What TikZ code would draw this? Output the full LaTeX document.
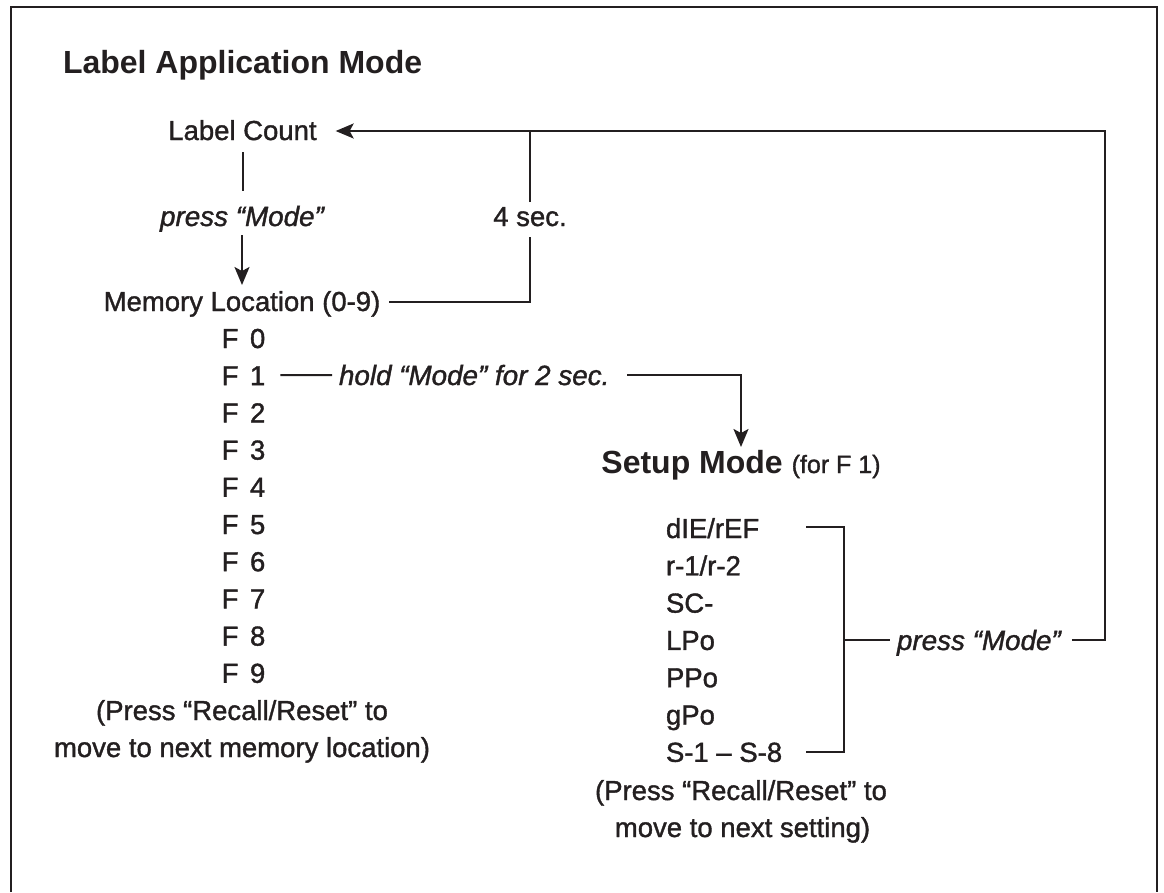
\documentclass[tikz,border=0pt]{standalone}
\usepackage{fontspec}
\setmainfont{Liberation Sans}[UprightFeatures={FakeBold=1.3},ItalicFeatures={FakeBold=1.3}]
\usetikzlibrary{arrows.meta}
\definecolor{ink}{RGB}{35,31,32}
\begin{document}
\begin{tikzpicture}[x=1pt,y=-1pt,
  every node/.style={inner sep=0pt,outer sep=0pt,text=ink},
  txt/.style={font=\fontsize{27.5}{33}\selectfont,anchor=base},
  ital/.style={font=\fontsize{27.8}{33}\selectfont\itshape,anchor=base},
  ttl/.style={font=\fontsize{32}{38}\selectfont\bfseries,anchor=base},
  ln/.style={draw=ink,line width=2pt},
  arr/.style={draw=ink,line width=2pt,-{Stealth[length=18pt,width=15pt,inset=4pt]}},
  frm/.style={draw=ink,line width=2.6pt}]
\useasboundingbox (0,0) rectangle (1164,892);
\draw[frm] (11,892) -- (11,7) -- (1157,7) -- (1157,892);

% left column
\node[ttl,anchor=base west] (title) at (63,73) {Label Application Mode};
\node[txt] (count) at (242.5,140) {Label Count};
\node[ital] (press1) at (242,226) {press “Mode”};
\node[txt] (four) at (530,226) {4 sec.};
\node[txt] (mem) at (242,311) {Memory Location (0-9)};
\foreach \i in {0,...,9}{
  \node[txt] (f\i) at (243.5,348+37.2*\i) {F\hspace{0.42em}\i};
}
\node[txt] (note1a) at (242,720) {(Press “Recall/Reset” to};
\node[txt] (note1b) at (242,757) {move to next memory location)};
\node[ital,anchor=base west] (hold) at (339,385) {hold “Mode” for 2 sec.};

% right column
\node[ttl] (setup) at (741,473) {Setup Mode {\fontsize{25}{30}\selectfont\mdseries (for F 1)}};
\node[txt,anchor=base west] (s1) at (666,538) {dIE/rEF};
\node[txt,anchor=base west] (s2) at (666,575.3) {r-1/r-2};
\node[txt,anchor=base west] (s3) at (666,612.6) {SC-};
\node[txt,anchor=base west] (s4) at (666,649.9) {LPo};
\node[txt,anchor=base west] (s5) at (666,687.2) {PPo};
\node[txt,anchor=base west] (s6) at (666,724.5) {gPo};
\node[txt,anchor=base west] (s7) at (666,761.8) {S-1 -- S-8};
\node[txt] (note2a) at (741,800) {(Press “Recall/Reset” to};
\node[txt] (note2b) at (742.5,837) {move to next setting)};
\node[ital,anchor=base west] (press2) at (897,650) {press “Mode”};

\coordinate (rc) at (1105,131);
\coordinate (bx) at (844,640);

% connectors
\draw[ln] ([yshift=-12pt]count.base) -- ([yshift=-51pt]count.base);
\draw[arr] ([yshift=-9pt]press1.base) -- ([yshift=26pt]mem.base);
\draw[ln] ([xshift=9pt,yshift=9pt]mem.base east) -| ([yshift=-11pt]four.base);
\draw[ln] ([yshift=24pt]four.base) -- (four.base |- rc);
\draw[ln] ([xshift=15pt,yshift=10pt]f1.base east) -- ([xshift=-7pt,yshift=10pt]hold.base west);
\draw[arr] ([xshift=18pt,yshift=10pt]hold.base east) -| ([yshift=26pt]setup.base);
\draw[ln] ([shift={(140pt,11pt)}]s1.base west) -| (bx) |- ([shift={(140pt,10pt)}]s7.base west);
\draw[ln] (bx) -- ([xshift=-7pt,yshift=10pt]press2.base west);
\draw[arr] ([xshift=11pt,yshift=10pt]press2.base east) -| (rc) -- ([xshift=19pt,yshift=9pt]count.base east);
\end{tikzpicture}
\end{document}
